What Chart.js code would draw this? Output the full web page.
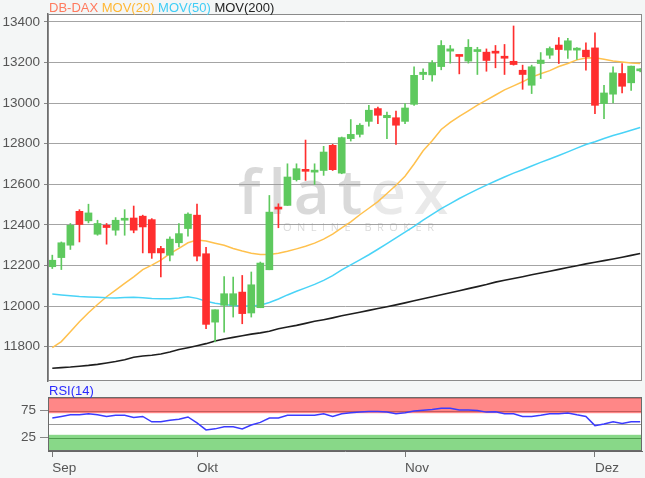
<!DOCTYPE html>
<html>
<head>
<meta charset="utf-8">
<script src="https://cdn.jsdelivr.net/npm/chart.js@4.4.0/dist/chart.umd.min.js"></script>
<style>
html, body { margin: 0; padding: 0; background: #f4f6f6; }
#wrap { position: relative; width: 645px; height: 478px; overflow: hidden; }
#mainChart { position: absolute; left: 0; top: 0; }
#rsiChart { position: absolute; left: 0; top: 381px; }
</style>
</head>
<body>
<div id="wrap">
    <canvas id="mainChart" width="645" height="384"></canvas>
    <canvas id="rsiChart" width="645" height="97"></canvas>
</div>
<script>
// DB-DAX Tageskerzen Sep - Dez 2019, MOV(20/50/200), RSI(14)
var dates = [
    '2019-09-09', '2019-09-10', '2019-09-11', '2019-09-12', '2019-09-13', '2019-09-16', '2019-09-17', '2019-09-18', '2019-09-19', '2019-09-20',
    '2019-09-23', '2019-09-24', '2019-09-25', '2019-09-26', '2019-09-27', '2019-09-30', '2019-10-01', '2019-10-02', '2019-10-03', '2019-10-04',
    '2019-10-07', '2019-10-08', '2019-10-09', '2019-10-10', '2019-10-11', '2019-10-14', '2019-10-15', '2019-10-16', '2019-10-17', '2019-10-18',
    '2019-10-21', '2019-10-22', '2019-10-23', '2019-10-24', '2019-10-25', '2019-10-28', '2019-10-29', '2019-10-30', '2019-10-31', '2019-11-01',
    '2019-11-04', '2019-11-05', '2019-11-06', '2019-11-07', '2019-11-08', '2019-11-11', '2019-11-12', '2019-11-13', '2019-11-14', '2019-11-15',
    '2019-11-18', '2019-11-19', '2019-11-20', '2019-11-21', '2019-11-22', '2019-11-25', '2019-11-26', '2019-11-27', '2019-11-28', '2019-11-29',
    '2019-12-02', '2019-12-03', '2019-12-04', '2019-12-05', '2019-12-06', '2019-12-09'
];
var opens = [
    12194, 12239, 12300, 12467, 12420, 12354, 12398, 12374, 12423, 12434,
    12443, 12426, 12284, 12251, 12312, 12382, 12448, 12258, 11921, 12004,
    12004, 12069, 11966, 11992, 12179, 12481, 12496, 12623, 12667, 12660,
    12668, 12792, 12655, 12825, 12846, 12910, 12973, 12928, 12928, 12910,
    12994, 13141, 13139, 13180, 13256, 13233, 13207, 13254, 13251, 13251,
    13231, 13206, 13162, 13088, 13195, 13236, 13286, 13261, 13261, 13261,
    13272, 12998, 13044, 13146, 13100, 13159
];
var highs = [
    12251, 12316, 12407, 12475, 12502, 12423, 12407, 12436, 12475, 12493,
    12448, 12431, 12295, 12341, 12407, 12459, 12502, 12290, 11982, 12146,
    12143, 12151, 12168, 12217, 12545, 12504, 12701, 12701, 12818, 12701,
    12787, 12797, 12833, 12919, 12899, 12989, 12980, 12956, 12961, 12998,
    13179, 13169, 13210, 13308, 13284, 13236, 13313, 13275, 13267, 13284,
    13289, 13380, 13187, 13187, 13249, 13277, 13323, 13319, 13274, 13297,
    13346, 13088, 13179, 13195, 13182, 13170
];
var lows = [
    12185, 12180, 12279, 12316, 12410, 12349, 12305, 12349, 12349, 12361,
    12262, 12235, 12144, 12223, 12292, 12344, 12223, 11889, 11823, 11872,
    11946, 11913, 11946, 11992, 12179, 12386, 12496, 12616, 12619, 12599,
    12644, 12668, 12652, 12813, 12833, 12886, 12899, 12825, 12797, 12899,
    12989, 13115, 13108, 13164, 13197, 13144, 13197, 13141, 13157, 13174,
    13141, 13187, 13068, 13047, 13121, 13220, 13195, 13220, 13215, 13162,
    12948, 12923, 13001, 13050, 13063, 13154
];
var closes = [
    12226, 12312, 12398, 12402, 12459, 12407, 12387, 12423, 12430, 12374,
    12390, 12262, 12262, 12330, 12357, 12453, 12246, 11910, 11982, 12061,
    12061, 11963, 12105, 12212, 12463, 12478, 12636, 12677, 12664, 12668,
    12759, 12672, 12830, 12846, 12891, 12965, 12940, 12940, 12891, 12976,
    13137, 13152, 13198, 13284, 13267, 13230, 13275, 13259, 13210, 13246,
    13221, 13190, 13141, 13179, 13212, 13269, 13264, 13307, 13264, 13228,
    12989, 13050, 13149, 13083, 13182, 13165
];
var ma20 = [
    11795, 11825, 11874, 11923, 11967, 12008, 12046, 12079, 12112, 12144,
    12180, 12202, 12226, 12259, 12284, 12312, 12325, 12321, 12310, 12300,
    12284, 12271, 12260, 12254, 12254, 12260, 12270, 12282, 12295, 12310,
    12330, 12355, 12385, 12415, 12450, 12482, 12515, 12555, 12595, 12640,
    12700, 12765, 12815, 12870, 12905, 12935, 12962, 12990, 13015, 13040,
    13065, 13085, 13105, 13128, 13145, 13160, 13180, 13195, 13213, 13222,
    13224, 13216, 13208, 13203, 13198, 13195
];
var ma50 = [
    12059, 12055, 12051, 12047, 12045, 12043, 12041, 12040, 12042, 12043,
    12041, 12038, 12036, 12036, 12040, 12046, 12038, 12024, 12014, 12008,
    12003, 12000, 12000, 12004, 12018, 12035, 12055, 12073, 12090, 12107,
    12127, 12150, 12178, 12203, 12228, 12253, 12280, 12308, 12336, 12364,
    12393, 12424, 12452, 12480, 12505, 12530, 12553, 12575, 12596, 12616,
    12636, 12655, 12672, 12690, 12708, 12725, 12742, 12760, 12778, 12796,
    12810, 12826, 12840, 12853, 12866, 12880
];
var ma200 = [
    11694, 11697, 11700, 11704, 11708, 11713, 11720, 11727, 11736, 11748,
    11754, 11758, 11764, 11774, 11786, 11795, 11805, 11815, 11828, 11838,
    11846, 11854, 11862, 11868, 11876, 11888, 11897, 11905, 11915, 11925,
    11933, 11942, 11952, 11961, 11970, 11979, 11988, 11997, 12006, 12016,
    12026, 12036, 12046, 12056, 12066, 12076, 12086, 12096, 12106, 12118,
    12127, 12136, 12145, 12154, 12163, 12172, 12181, 12190, 12199, 12208,
    12216, 12224, 12232, 12241, 12250, 12259
];
var rsi14 = [
    61, 64, 67, 67, 69, 67, 64, 66, 66, 62,
    64, 54, 54, 57, 59, 63, 52, 39, 41, 45,
    45, 41, 48, 53, 61, 61, 66, 66, 66, 66,
    69, 64, 69, 71, 72, 73, 73, 72, 69, 71,
    74, 75.5, 77, 79, 79, 76, 76, 75, 72, 72.5,
    69, 69, 64, 64, 66, 69, 69, 70.5, 67, 64,
    47, 50, 54, 51, 54, 54
];
var yTicks = [11800, 12000, 12200, 12400, 12600, 12800, 13000, 13200, 13400];
var rsiTicks = [25, 75];
var rsiZones = { oversold: 30, mid: 50, overbought: 70 };
var monthLabels = ['Sep', 'Okt', 'Nov', 'Dez'];
var legendItems = [
    { text: 'DB-DAX', color: '#ff7a5e' },
    { text: 'MOV(20)', color: '#ffb733' },
    { text: 'MOV(50)', color: '#3fcdf6' },
    { text: 'MOV(200)', color: '#222222' }
];

var UP = '#5ec95e', DOWN = '#ff2e2e';
var FONT = '"Liberation Sans", Arial, sans-serif';
var X_MIN = -0.475, X_MAX = 65.2;

// erster Handelstag jedes Monats bekommt einen Tick
var monthTicks = [];
dates.forEach(function(d, i) {
    if (i === 0 || d.slice(5, 7) !== dates[i - 1].slice(5, 7)) monthTicks.push(i);
});

function pts(arr) { return arr.map(function(v, i) { return { x: i, y: v }; }); }
var candleColors = closes.map(function(c, i) { return c >= opens[i] ? UP : DOWN; });

function fixAxis(width) {
    return function(s) { s.width = width; s.paddingTop = 0; s.paddingBottom = 0; };
}

var plotBg = {
    id: 'plotBg',
    beforeDraw: function(chart) {
        var a = chart.chartArea, ctx = chart.ctx;
        ctx.save();
        ctx.fillStyle = '#ffffff';
        ctx.fillRect(a.left, a.top, a.right - a.left, a.bottom - a.top);
        ctx.restore();
    }
};

function frame(color) {
    return {
        id: 'frame',
        afterDatasetsDraw: function(chart) {
            var a = chart.chartArea, ctx = chart.ctx;
            ctx.save();
            ctx.strokeStyle = color;
            ctx.lineWidth = 1;
            ctx.strokeRect(a.left + 0.5, a.top + 0.5, a.right - a.left - 1, a.bottom - a.top - 1);
            ctx.restore();
        }
    };
}

var watermark = {
    id: 'watermark',
    beforeDatasetsDraw: function(chart) {
        var ctx = chart.ctx;
        ctx.save();
        ctx.textBaseline = 'alphabetic';
        ctx.font = '600 62px "Open Sans", sans-serif';
        var x = 238;
        'flatex'.split('').forEach(function(ch, i) {
            ctx.fillStyle = i < 4 ? 'rgba(150,150,150,0.36)' : 'rgba(170,170,170,0.26)';
            ctx.fillText(ch, x, 214);
            x += ctx.measureText(ch).width + 8;
        });
        ctx.font = '11px "Open Sans", sans-serif';
        ctx.fillStyle = 'rgba(150,150,150,0.35)';
        x = 283;
        'ONLINE BROKER'.split('').forEach(function(ch) {
            ctx.fillText(ch, x, 231);
            x += ctx.measureText(ch).width + 5.5;
        });
        ctx.restore();
    }
};

var topLegend = {
    id: 'topLegend',
    afterDraw: function(chart) {
        var ctx = chart.ctx;
        ctx.save();
        ctx.font = '13px ' + FONT;
        ctx.textBaseline = 'alphabetic';
        var x = 49;
        legendItems.forEach(function(it) {
            ctx.fillStyle = it.color;
            ctx.fillText(it.text, x, 12);
            x += ctx.measureText(it.text + ' ').width;
        });
        ctx.restore();
    }
};

new Chart(document.getElementById('mainChart'), {
    type: 'bar',
    data: {
        datasets: [
            {
                label: 'Body', order: 0, grouped: false,
                data: opens.map(function(o, i) { return { x: i, y: [o, closes[i]] }; }),
                backgroundColor: candleColors, borderWidth: 0, barThickness: 7, minBarLength: 2
            },
            {
                label: 'Wick', order: 1, grouped: false,
                data: lows.map(function(l, i) { return { x: i, y: [l, highs[i]] }; }),
                backgroundColor: candleColors, borderWidth: 0, barThickness: 1
            },
            { type: 'line', label: 'MOV(200)', order: 2, data: pts(ma200), borderColor: '#1e1e1e', borderWidth: 1.6, pointRadius: 0, tension: 0 },
            { type: 'line', label: 'MOV(50)', order: 2, data: pts(ma50), borderColor: '#49d3f7', borderWidth: 1.5, pointRadius: 0, tension: 0 },
            { type: 'line', label: 'MOV(20)', order: 2, data: pts(ma20), borderColor: '#ffc14d', borderWidth: 1.5, pointRadius: 0, tension: 0 }
        ]
    },
    options: {
        responsive: false, animation: false, events: [],
        layout: { padding: { top: 14, right: 3, bottom: 3, left: 0 } },
        plugins: { legend: { display: false }, tooltip: { enabled: false } },
        scales: {
            x: { type: 'linear', min: X_MIN, max: X_MAX, offset: false, display: false },
            y: {
                min: 11631, max: 13439,
                afterBuildTicks: function(s) { s.ticks = yTicks.map(function(v) { return { value: v }; }); },
                afterFit: fixAxis(48),
                ticks: { color: '#555', font: { family: FONT, size: 13.5 }, padding: 4, callback: function(v) { return String(v); } },
                grid: { color: '#a4a4a4', lineWidth: 1, tickLength: 4, tickColor: '#888' },
                border: { display: true, color: '#6e6e6e', width: 1.5 }
            }
        }
    },
    plugins: [plotBg, watermark, frame('#8a8a8a'), topLegend]
});

var rsiBands = {
    id: 'rsiBands',
    beforeDatasetsDraw: function(chart) {
        var a = chart.chartArea, y = chart.scales.y, ctx = chart.ctx;
        var w = a.right - a.left;
        ctx.save();
        ctx.fillStyle = '#ff8787';
        ctx.fillRect(a.left, y.getPixelForValue(100), w, y.getPixelForValue(rsiZones.overbought) - y.getPixelForValue(100));
        ctx.fillStyle = '#88d888';
        ctx.fillRect(a.left, y.getPixelForValue(rsiZones.oversold), w, y.getPixelForValue(0) - y.getPixelForValue(rsiZones.oversold));
        function hline(v, color) {
            var py = Math.round(y.getPixelForValue(v)) + 0.5;
            ctx.strokeStyle = color; ctx.lineWidth = 1;
            ctx.beginPath(); ctx.moveTo(a.left, py); ctx.lineTo(a.right, py); ctx.stroke();
        }
        hline(rsiTicks[1], '#c85a5a');
        hline(99, '#d06a6a');
        hline(rsiZones.mid, '#9a9a9a');
        hline(rsiTicks[0], '#4f9f4f');
        hline(1, '#5aa85a');
        ctx.restore();
    },
    afterDraw: function(chart) {
        var ctx = chart.ctx;
        ctx.save();
        ctx.font = '13px ' + FONT;
        ctx.fillStyle = '#2b2bff';
        ctx.textBaseline = 'alphabetic';
        ctx.fillText('RSI(14)', 49, 14);
        ctx.restore();
    }
};

new Chart(document.getElementById('rsiChart'), {
    type: 'line',
    data: {
        datasets: [
            { label: 'RSI(14)', data: pts(rsi14), borderColor: '#3b3bff', borderWidth: 1.5, pointRadius: 0, tension: 0 }
        ]
    },
    options: {
        responsive: false, animation: false, events: [],
        layout: { padding: { top: 16, right: 3, bottom: 0, left: 0 } },
        plugins: { legend: { display: false }, tooltip: { enabled: false } },
        scales: {
            x: {
                type: 'linear', min: X_MIN, max: X_MAX, offset: false,
                afterBuildTicks: function(s) { s.ticks = monthTicks.map(function(v) { return { value: v }; }); },
                afterFit: function(s) { s.height = 27; },
                ticks: {
                    autoSkip: false, maxRotation: 0, align: 'start', padding: 3,
                    color: '#555', font: { family: FONT, size: 13.5 },
                    callback: function(v) { return monthLabels[monthTicks.indexOf(v)]; }
                },
                grid: { drawOnChartArea: false, tickLength: 6, tickColor: '#777' },
                border: { display: true, color: '#666' }
            },
            y: {
                min: 0, max: 100,
                afterBuildTicks: function(s) { s.ticks = rsiTicks.map(function(v) { return { value: v }; }); },
                afterFit: fixAxis(48),
                ticks: { color: '#555', font: { family: FONT, size: 13.5 }, padding: 4 },
                grid: { drawOnChartArea: false, tickLength: 8, tickColor: '#888' },
                border: { display: true, color: '#666' }
            }
        }
    },
    plugins: [plotBg, rsiBands, frame('#6a6a6a')]
});
</script>
</body>
</html>
